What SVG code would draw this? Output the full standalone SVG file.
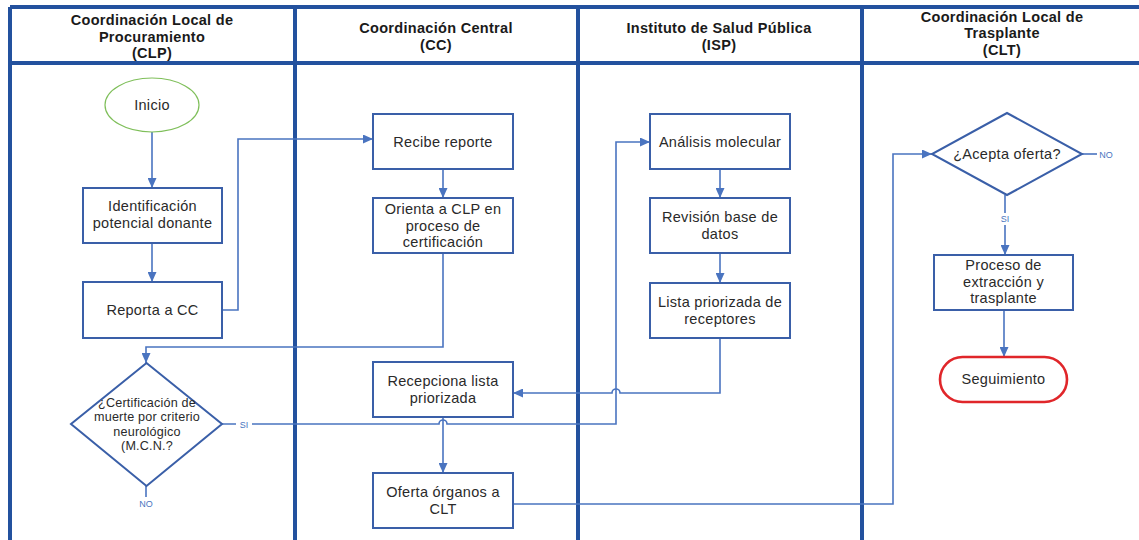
<svg xmlns="http://www.w3.org/2000/svg" width="1139" height="540" viewBox="0 0 1139 540">
<defs>
<style>
.lane{stroke:#23519e;stroke-width:4;fill:none}
.box{fill:#fff;stroke:#3a5fa8;stroke-width:2}
.conn{fill:none;stroke:#4a74c0;stroke-width:1.6}
.t{font-family:"Liberation Sans",Arial,sans-serif;font-size:14.5px;letter-spacing:0.3px;fill:#2a2a2a;text-anchor:middle}
.h{font-family:"Liberation Sans",Arial,sans-serif;font-size:14.5px;letter-spacing:0.3px;font-weight:bold;fill:#1a1a1a;text-anchor:middle}
.d{font-family:"Liberation Sans",Arial,sans-serif;font-size:12.6px;letter-spacing:0.2px;fill:#2a2a2a;text-anchor:middle}
.lbl{font-family:"Liberation Sans",Arial,sans-serif;font-size:9px;fill:#4a74c0;text-anchor:middle}
</style>
<marker id="arr" markerUnits="userSpaceOnUse" markerWidth="10" markerHeight="9" refX="10" refY="4.5" orient="auto">
<path d="M0,0 L10,4.5 L0,9 z" fill="#4a74c0"/>
</marker>
</defs>
<rect width="1139" height="540" fill="#fff"/>
<g id="lanes">
<path class="lane" d="M10 7 H1139 M10 63 H1139 M10 7 V540 M295 7 V540 M578 7 V540 M862 7 V540"/>
<text class="h" x="152" y="25">Coordinación Local de</text>
<text class="h" x="152" y="42">Procuramiento</text>
<text class="h" x="152" y="58">(CLP)</text>
<text class="h" x="436" y="33">Coordinación Central</text>
<text class="h" x="436" y="50">(CC)</text>
<text class="h" x="719" y="33">Instituto de Salud Pública</text>
<text class="h" x="719" y="50">(ISP)</text>
<text class="h" x="1002" y="22">Coordinación Local de</text>
<text class="h" x="1002" y="38">Trasplante</text>
<text class="h" x="1002" y="55">(CLT)</text>
</g>
<g id="connectors">
<path class="conn" d="M152 132 V188" marker-end="url(#arr)"/>
<path class="conn" d="M152 243 V282" marker-end="url(#arr)"/>
<path class="conn" d="M222 310 H238 V139 H373" marker-end="url(#arr)"/>
<path class="conn" d="M443 169 V198" marker-end="url(#arr)"/>
<path class="conn" d="M443 253 V347 H146 V363" marker-end="url(#arr)"/>
<path class="conn" d="M222 424 H439 a4 4 0 0 1 8 0 H616 V142 H650" marker-end="url(#arr)"/>
<path class="conn" d="M720 169 V198" marker-end="url(#arr)"/>
<path class="conn" d="M720 253 V283" marker-end="url(#arr)"/>
<path class="conn" d="M720 338 V393 H620 a4 4 0 0 0 -8 0 H513" marker-end="url(#arr)"/>
<path class="conn" d="M443 417 V473" marker-end="url(#arr)"/>
<path class="conn" d="M513 504 H893 V154 H932" marker-end="url(#arr)"/>
<path class="conn" d="M1005 195 V255" marker-end="url(#arr)"/>
<path class="conn" d="M1004 310 V357" marker-end="url(#arr)"/>
<path class="conn" d="M1082 154 H1097"/>
<path class="conn" d="M146 486 V497"/>
<rect x="236" y="418" width="16" height="12" fill="#fff"/>
<text class="lbl" x="244" y="427.5">SI</text>
<rect x="998" y="213" width="14" height="12" fill="#fff"/>
<text class="lbl" x="1005" y="222">SI</text>
<text class="lbl" x="1106" y="158">NO</text>
<text class="lbl" x="146" y="507">NO</text>
</g>
<g id="inicio">
<ellipse cx="152" cy="105" rx="47" ry="27" fill="#fff" stroke="#7fbf5a" stroke-width="1.2"/>
<text class="t" x="152" y="110">Inicio</text>
</g>
<g id="identificacion">
<rect class="box" x="83" y="188" width="139" height="55"/>
<text class="t" x="152.5" y="211">Identificación</text>
<text class="t" x="152.5" y="228">potencial donante</text>
</g>
<g id="reporta">
<rect class="box" x="83" y="282" width="139" height="56"/>
<text class="t" x="152.5" y="315">Reporta a CC</text>
</g>
<g id="certificacion">
<polygon class="box" points="146.5,363 222,424 146.5,486 71,424"/>
<text class="d" x="147" y="406.5">¿Certificación de</text>
<text class="d" x="147" y="421">muerte por criterio</text>
<text class="d" x="147" y="435.5">neurológico</text>
<text class="d" x="147" y="450">(M.C.N.?</text>
</g>
<g id="recibe">
<rect class="box" x="373" y="114" width="140" height="55"/>
<text class="t" x="443" y="147">Recibe reporte</text>
</g>
<g id="orienta">
<rect class="box" x="373" y="198" width="140" height="55"/>
<text class="t" x="443" y="214">Orienta a CLP en</text>
<text class="t" x="443" y="231">proceso de</text>
<text class="t" x="443" y="247">certificación</text>
</g>
<g id="recepciona">
<rect class="box" x="373" y="362" width="140" height="55"/>
<text class="t" x="443" y="386">Recepciona lista</text>
<text class="t" x="443" y="403">priorizada</text>
</g>
<g id="oferta">
<rect class="box" x="373" y="473" width="140" height="55"/>
<text class="t" x="443" y="497">Oferta órganos a</text>
<text class="t" x="443" y="514">CLT</text>
</g>
<g id="analisis">
<rect class="box" x="650" y="114" width="140" height="55"/>
<text class="t" x="720" y="147">Análisis molecular</text>
</g>
<g id="revision">
<rect class="box" x="650" y="198" width="140" height="55"/>
<text class="t" x="720" y="222">Revisión base de</text>
<text class="t" x="720" y="239">datos</text>
</g>
<g id="lista">
<rect class="box" x="650" y="283" width="140" height="55"/>
<text class="t" x="720" y="307">Lista priorizada de</text>
<text class="t" x="720" y="324">receptores</text>
</g>
<g id="acepta">
<polygon class="box" points="1007,113 1082,154 1007,195 932,154"/>
<text class="t" x="1007" y="159">¿Acepta oferta?</text>
</g>
<g id="proceso">
<rect class="box" x="934" y="255" width="139" height="55"/>
<text class="t" x="1003.5" y="270">Proceso de</text>
<text class="t" x="1003.5" y="287">extracción y</text>
<text class="t" x="1003.5" y="303">trasplante</text>
</g>
<g id="seguimiento">
<rect x="940" y="357" width="127" height="45" rx="22.5" fill="#fff" stroke="#e0262a" stroke-width="2.6"/>
<text class="t" x="1003.5" y="384">Seguimiento</text>
</g>
</svg>
